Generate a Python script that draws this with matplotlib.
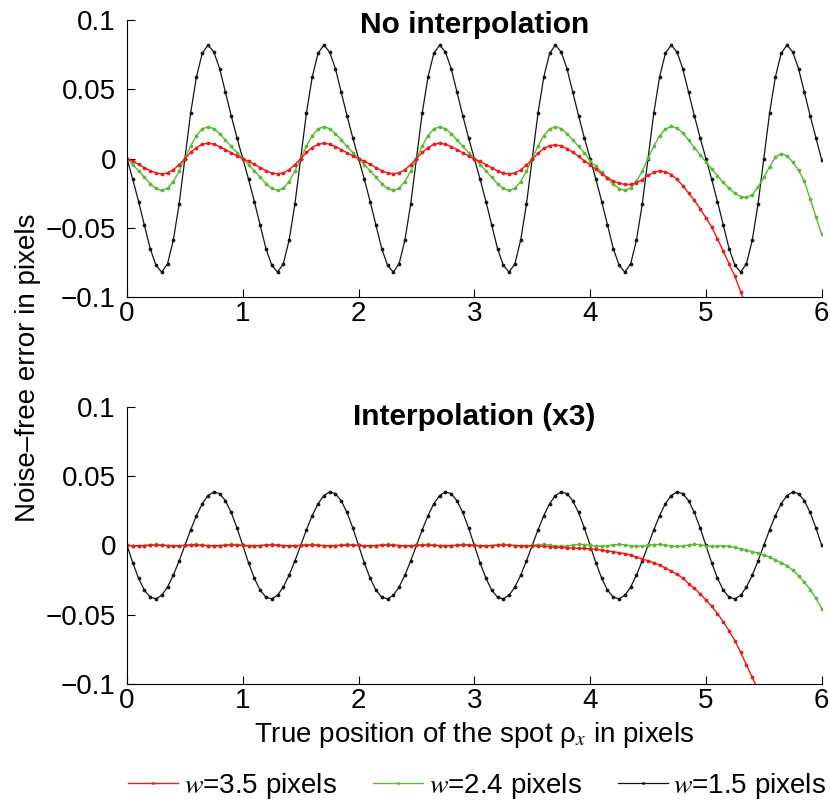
import matplotlib

matplotlib.use('Agg')
import matplotlib.pyplot as plt
import numpy as np

# sampled positions (pixels), step 0.05
X = np.linspace(0, 6, 121)

# --- No interpolation: error, one row per pixel ---
blk_top = [
    0, -0.015, -0.031, -0.048, -0.065, -0.077, -0.082, -0.076, -0.059, -0.033,
    0, 0.033, 0.059, 0.076, 0.082, 0.077, 0.065, 0.048, 0.031, 0.015,
    0, -0.015, -0.031, -0.048, -0.065, -0.077, -0.082, -0.076, -0.059, -0.033,
    0, 0.033, 0.059, 0.076, 0.082, 0.077, 0.065, 0.048, 0.031, 0.015,
    0, -0.015, -0.031, -0.048, -0.065, -0.077, -0.082, -0.076, -0.059, -0.033,
    0, 0.033, 0.059, 0.076, 0.082, 0.077, 0.065, 0.048, 0.031, 0.015,
    0, -0.015, -0.031, -0.048, -0.065, -0.077, -0.082, -0.076, -0.059, -0.033,
    0, 0.033, 0.059, 0.076, 0.082, 0.077, 0.065, 0.048, 0.031, 0.015,
    0, -0.015, -0.031, -0.048, -0.065, -0.077, -0.082, -0.076, -0.059, -0.033,
    0, 0.033, 0.059, 0.076, 0.082, 0.077, 0.065, 0.048, 0.031, 0.015,
    0, -0.015, -0.031, -0.048, -0.065, -0.077, -0.082, -0.076, -0.059, -0.033,
    0, 0.033, 0.059, 0.076, 0.082, 0.077, 0.065, 0.048, 0.031, 0.015,
    -0.001,
]
grn_top = [
    0, -0.0043, -0.0088, -0.0135, -0.0181, -0.0216, -0.0230, -0.0214, -0.0166, -0.0091,
    0, 0.0091, 0.0166, 0.0214, 0.0230, 0.0216, 0.0181, 0.0135, 0.0088, 0.0043,
    0, -0.0043, -0.0088, -0.0135, -0.0181, -0.0216, -0.0230, -0.0214, -0.0166, -0.0091,
    0, 0.0091, 0.0166, 0.0214, 0.0230, 0.0216, 0.0181, 0.0135, 0.0088, 0.0043,
    0, -0.0043, -0.0088, -0.0135, -0.0181, -0.0216, -0.0230, -0.0214, -0.0166, -0.0091,
    0, 0.0091, 0.0166, 0.0214, 0.0230, 0.0216, 0.0181, 0.0135, 0.0088, 0.0043,
    0, -0.0043, -0.0088, -0.0135, -0.0181, -0.0216, -0.0230, -0.0214, -0.0166, -0.0091,
    0, 0.0091, 0.0166, 0.0214, 0.0230, 0.0216, 0.0181, 0.0135, 0.0088, 0.0043,
    -0.0015, -0.0055, -0.0098, -0.0143, -0.0185, -0.0217, -0.0229, -0.0212, -0.0165, -0.0090,
    0.0001, 0.0090, 0.0165, 0.0213, 0.0232, 0.0220, 0.0185, 0.0135, 0.0080, 0.0028,
    -0.0024, -0.0075, -0.0125, -0.0172, -0.0215, -0.0250, -0.0274, -0.0281, -0.0260, -0.0205,
    -0.0135, -0.0060, 0.0010, 0.0036, 0.0020, -0.0025, -0.0085, -0.0165, -0.0290, -0.0420,
    -0.0548,
]
red_top = [
    0, -0.0020, -0.0042, -0.0065, -0.0087, -0.0104, -0.0111, -0.0103, -0.0080, -0.0044,
    0, 0.0044, 0.0080, 0.0103, 0.0111, 0.0104, 0.0087, 0.0065, 0.0042, 0.0020,
    0, -0.0020, -0.0042, -0.0065, -0.0087, -0.0104, -0.0111, -0.0103, -0.0080, -0.0044,
    0, 0.0044, 0.0080, 0.0103, 0.0111, 0.0104, 0.0087, 0.0065, 0.0042, 0.0020,
    0, -0.0020, -0.0042, -0.0065, -0.0087, -0.0104, -0.0111, -0.0103, -0.0080, -0.0044,
    0, 0.0044, 0.0080, 0.0103, 0.0111, 0.0104, 0.0087, 0.0065, 0.0042, 0.0020,
    -0.0003, -0.0021, -0.0044, -0.0067, -0.0089, -0.0105, -0.0111, -0.0104, -0.0082, -0.0047,
    -0.0005, 0.0038, 0.0073, 0.0094, 0.0100, 0.0091, 0.0072, 0.0046, 0.0016, -0.0015,
    -0.0045, -0.0078, -0.0110, -0.0139, -0.0162, -0.0178, -0.0186, -0.0187, -0.0175, -0.0152,
    -0.0122, -0.0099, -0.0090, -0.0095, -0.0115, -0.0150, -0.0195, -0.0248, -0.0302, -0.0362,
    -0.0428, -0.0494, -0.0580, -0.0668, -0.0760, -0.0850, -0.0960, -0.1075,
]

# --- Interpolation (x3) ---
blk_bot = [
    0, -0.0126, -0.0237, -0.0322, -0.0373, -0.0385, -0.0359, -0.0300, -0.0215, -0.0112,
    0, 0.0112, 0.0215, 0.0300, 0.0359, 0.0385, 0.0373, 0.0322, 0.0237, 0.0126,
    0, -0.0126, -0.0237, -0.0322, -0.0373, -0.0385, -0.0359, -0.0300, -0.0215, -0.0112,
    0, 0.0112, 0.0215, 0.0300, 0.0359, 0.0385, 0.0373, 0.0322, 0.0237, 0.0126,
    0, -0.0126, -0.0237, -0.0322, -0.0373, -0.0385, -0.0359, -0.0300, -0.0215, -0.0112,
    0, 0.0112, 0.0215, 0.0300, 0.0359, 0.0385, 0.0373, 0.0322, 0.0237, 0.0126,
    0, -0.0126, -0.0237, -0.0322, -0.0373, -0.0385, -0.0359, -0.0300, -0.0215, -0.0112,
    0, 0.0112, 0.0215, 0.0300, 0.0359, 0.0385, 0.0373, 0.0322, 0.0237, 0.0126,
    0, -0.0126, -0.0237, -0.0322, -0.0373, -0.0385, -0.0359, -0.0300, -0.0215, -0.0112,
    0, 0.0112, 0.0215, 0.0300, 0.0359, 0.0385, 0.0373, 0.0322, 0.0237, 0.0126,
    0, -0.0126, -0.0237, -0.0322, -0.0373, -0.0385, -0.0359, -0.0300, -0.0215, -0.0112,
    0, 0.0112, 0.0215, 0.0300, 0.0359, 0.0385, 0.0373, 0.0322, 0.0237, 0.0126,
    0,
]
grn_bot = [
    0, -0.0006, -0.0007, -0.0002, 0.0004, 0.0007, 0.0004, -0.0002, -0.0007, -0.0006,
    0, 0.0006, 0.0007, 0.0002, -0.0004, -0.0007, -0.0004, 0.0002, 0.0007, 0.0006,
    0, -0.0006, -0.0007, -0.0002, 0.0004, 0.0007, 0.0004, -0.0002, -0.0007, -0.0006,
    0, 0.0006, 0.0007, 0.0002, -0.0004, -0.0007, -0.0004, 0.0002, 0.0007, 0.0006,
    0, -0.0006, -0.0007, -0.0002, 0.0004, 0.0007, 0.0004, -0.0002, -0.0007, -0.0006,
    0, 0.0006, 0.0007, 0.0002, -0.0004, -0.0007, -0.0004, 0.0002, 0.0007, 0.0006,
    0, -0.0006, -0.0007, -0.0002, 0.0004, 0.0007, 0.0004, -0.0002, -0.0007, -0.0006,
    0, 0.0006, 0.0007, 0.0002, -0.0004, -0.0007, -0.0004, 0.0002, 0.0007, 0.0006,
    0, -0.0006, -0.0007, -0.0002, 0.0004, 0.0007, 0.0004, -0.0002, -0.0007, -0.0006,
    0, 0.0006, 0.0007, 0.0002, -0.0004, -0.0007, -0.0004, 0.0002, 0.0007, 0.0006,
    -0.0003, -0.0007, -0.0005, -0.0003, -0.0007, -0.0015, -0.0025, -0.0035, -0.0045, -0.0055,
    -0.0068, -0.0085, -0.0105, -0.0125, -0.0148, -0.0178, -0.0218, -0.0264, -0.0318, -0.0382,
    -0.0455,
]
red_bot = [
    0, -0.0002, -0.0002, -0.0001, 0.0001, 0.0002, 0.0001, -0.0001, -0.0002, -0.0002,
    0, 0.0002, 0.0002, 0.0001, -0.0001, -0.0002, -0.0001, 0.0001, 0.0002, 0.0002,
    0, -0.0002, -0.0002, -0.0001, 0.0001, 0.0002, 0.0001, -0.0001, -0.0002, -0.0002,
    0, 0.0002, 0.0002, 0.0001, -0.0001, -0.0002, -0.0001, 0.0001, 0.0002, 0.0002,
    0, -0.0002, -0.0002, -0.0001, 0.0001, 0.0002, 0.0001, -0.0001, -0.0002, -0.0002,
    0, 0.0002, 0.0002, 0.0001, -0.0001, -0.0002, -0.0001, 0.0001, 0.0002, 0.0002,
    0, -0.0002, -0.0002, -0.0001, 0.0001, 0.0002, 0.0001, -0.0001, -0.0002, -0.0003,
    -0.0002, -0.0004, -0.0007, -0.0010, -0.0013, -0.0015, -0.0017, -0.0019, -0.0021, -0.0022,
    -0.0024, -0.0028, -0.0034, -0.0040, -0.0046, -0.0052, -0.0060, -0.0070, -0.0084, -0.0098,
    -0.0110, -0.0125, -0.0142, -0.0163, -0.0185, -0.0208, -0.0235, -0.0275, -0.0310, -0.0350,
    -0.0392, -0.0440, -0.0491, -0.0550, -0.0615, -0.0685, -0.0770, -0.0860, -0.0950, -0.1040,
]

TITLES = ['No interpolation', 'Interpolation (x3)']
LABELS = ['$w$=3.5 pixels', '$w$=2.4 pixels', '$w$=1.5 pixels']
YTICKS = [-0.1, -0.05, 0, 0.05, 0.1]
YTICKLABELS = ['\u22120.1', '\u22120.05', '0', '0.05', '0.1']

COLOR_RED = '#f01818'
COLOR_GRN = '#5cb836'
COLOR_BLK = '#141414'

plt.rcParams['font.family'] = ['Liberation Sans', 'DejaVu Sans']
plt.rcParams['mathtext.fontset'] = 'stix'
FS = 20

fig = plt.figure(figsize=(8.3, 8.05), dpi=100)
ax_top = fig.add_axes([0.153, 0.631, 0.837, 0.344])
ax_bot = fig.add_axes([0.153, 0.150, 0.837, 0.345])

panels = [
    (ax_top, red_top, grn_top, blk_top, 0.953),
    (ax_bot, red_bot, grn_bot, blk_bot, 0.932),
]
handles = None
for i, (ax, r, g, b, ty) in enumerate(panels):
    lb, = ax.plot(X[:len(b)], b, '-', color=COLOR_BLK, lw=0.9, marker='.', ms=3.4)
    lg, = ax.plot(X[:len(g)], g, '-', color=COLOR_GRN, lw=1.0, marker='.', ms=3.4)
    lr, = ax.plot(X[:len(r)], r, '-', color=COLOR_RED, lw=1.0, marker='.', ms=3.4)
    handles = [lr, lg, lb]
    ax.set_xlim(0, 6)
    ax.set_ylim(-0.1, 0.1)
    ax.set_xticks(range(7))
    ax.set_yticks(YTICKS)
    ax.set_yticklabels(YTICKLABELS)
    ax.spines['top'].set_visible(False)
    ax.spines['right'].set_visible(False)
    ax.tick_params(direction='in', length=6, width=0.8, labelsize=FS, pad=3)
    ax.tick_params(axis='y', pad=8)
    ax.text(0.5, ty, TITLES[i], transform=ax.transAxes, ha='center', va='baseline',
            fontsize=21.5, fontweight='bold')

ax_bot.set_xlabel('True position of the spot \u03c1$_{x}$ in pixels', fontsize=FS, labelpad=4)
fig.text(0.034, 0.543, 'Noise\u2013free error in pixels', rotation=90, fontsize=FS,
         ha='center', va='center')

fig.legend(handles, LABELS, loc='center', bbox_to_anchor=(0.575, 0.024), ncol=3,
           frameon=False, fontsize=FS, handlelength=1.8, handletextpad=0.2,
           columnspacing=1.3, markerscale=0.6)

fig.savefig('out.png', dpi=100)
